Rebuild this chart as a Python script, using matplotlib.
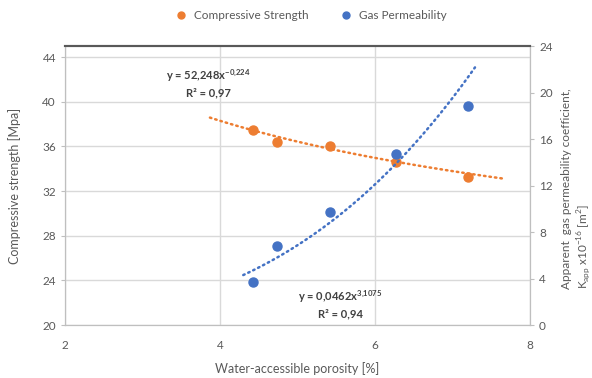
import numpy as np
import matplotlib.pyplot as plt

plt.rcParams['font.family'] = ['Lato', 'DejaVu Sans']
plt.rcParams['mathtext.fontset'] = 'custom'
plt.rcParams['mathtext.rm'] = 'Lato'
plt.rcParams['mathtext.bf'] = 'Lato:bold'

porosity = [4.42, 4.73, 5.42, 6.27, 7.2]
strength = [37.5, 36.4, 36.0, 34.6, 33.3]
permeability = [3.7, 6.8, 9.7, 14.7, 18.8]

orange = '#ED7D31'
blue = '#4472C4'
grey = '#595959'

fig = plt.figure(figsize=(5.92, 3.78), dpi=100)
ax = fig.add_axes([0.1098, 0.1402, 0.7855, 0.7381])
ax2 = ax.twinx()

# trend lines (power fits)
xs = np.linspace(3.87, 7.64, 100)
ax.plot(xs, 52.248 * xs ** -0.224, color=orange, lw=1.8, ls=(0, (0.6, 1.6)),
        dash_capstyle='round', zorder=2)
xb = np.linspace(4.3, 7.29, 100)
ax2.plot(xb, 0.0462 * xb ** 3.1075, color=blue, lw=1.8, ls=(0, (0.6, 1.6)),
         dash_capstyle='round', zorder=2)

ax.plot(porosity, strength, 'o', color=orange, ms=6.5, zorder=3)
ax2.plot(porosity, permeability, 'o', color=blue, ms=6.5, zorder=3)

ax.set_xlim(2, 8)
ax.set_ylim(20, 45)
ax2.set_ylim(0, 24)
ax.set_xticks([2, 4, 6, 8])
ax.set_yticks(range(20, 45, 4))
ax2.set_yticks(range(0, 25, 4))
ax.grid(True, color='#D9D9D9', lw=1)
ax.set_axisbelow(True)

for a in (ax, ax2):
    for s in a.spines.values():
        s.set_color('#BFBFBF')
    a.spines['top'].set_color('#595959')
    a.spines['top'].set_linewidth(1.5)
    a.tick_params(colors=grey, labelsize=8.5, length=3, width=0.8)
    a.tick_params(axis='x', pad=11)
ax.tick_params(axis='y', color='#BFBFBF')
ax2.tick_params(axis='y', color='#BFBFBF')
ax.tick_params(axis='x', length=0)

ax.set_xlabel('Water-accessible porosity [%]', color=grey, fontsize=9, labelpad=8)
ax.set_ylabel('Compressive strength [Mpa]', color=grey, fontsize=9)
ax.yaxis.set_label_coords(-0.095, 0.5)
fig.text(0.948, 0.50, 'Apparent  gas permeability coefficient,\nK$_{\\mathregular{app}}$ x10$^{\\mathregular{-16}}$ [m$^{\\mathregular{2}}$]',
         rotation=90, color=grey, fontsize=8.5, ha='left', va='center', linespacing=1.2)

ax.text(3.85, 41.95, 'y = 52,248x$^{\\mathbf{-0{,}224}}$', ha='center', color='#404040',
        fontsize=8, fontweight='bold')
ax.text(3.85, 40.45, 'R² = 0,97', ha='center', color='#404040',
        fontsize=8, fontweight='bold')
ax.text(5.55, 22.2, 'y = 0,0462x$^{\\mathbf{3{,}1075}}$', ha='center', color='#404040',
        fontsize=8, fontweight='bold')
ax.text(5.55, 20.65, 'R² = 0,94', ha='center', color='#404040',
        fontsize=8, fontweight='bold')

h1, = ax.plot([], [], 'o', color=orange, ms=5)
h2, = ax.plot([], [], 'o', color=blue, ms=5)
fig.legend([h1, h2], ['Compressive Strength', 'Gas Permeability'], loc='center',
           bbox_to_anchor=(0.52, 0.958), ncol=2, frameon=False, fontsize=8.5,
           labelcolor=grey, handletextpad=0.1, columnspacing=2.2)

plt.savefig('out.png', dpi=100)
